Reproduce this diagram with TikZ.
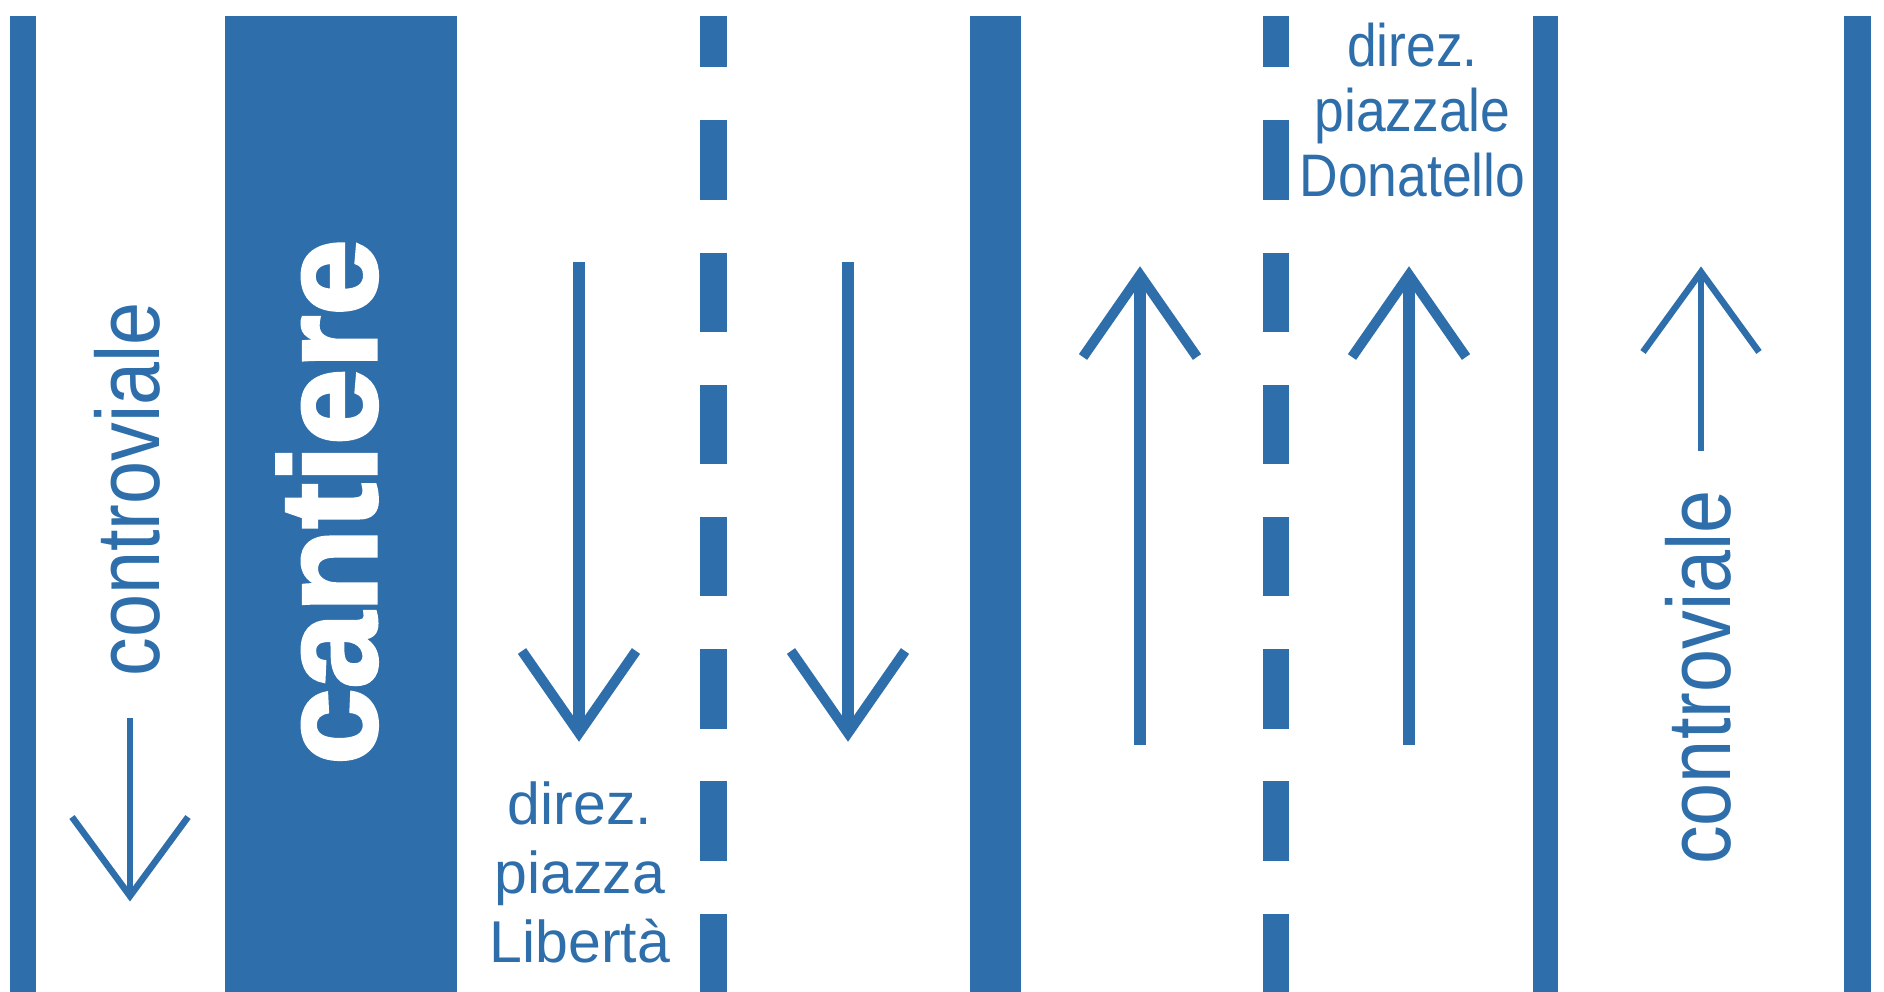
\documentclass[tikz,border=0pt]{standalone}
\usepackage{fontspec}
\setmainfont{Liberation Sans}
\newfontfamily\narrowfont{Liberation Sans}[FakeStretch=0.89]
\newfontfamily\sidefont{Liberation Sans}[FakeStretch=0.86]
\newfontfamily\heavyfont{Liberation Sans Bold}[FakeBold=2.5]
\definecolor{roadblue}{RGB}{46,110,171}

\begin{document}
\begin{tikzpicture}[x=1pt,y=-1pt,
  bar/.style={fill=roadblue,draw=none},
  lanemark/.style={draw=roadblue,line width=26.5pt,dash pattern=on 79.3pt off 52.9pt,dash phase=27.8pt},
  shaft/.style={draw=roadblue,line width=12pt},
  wing/.style={draw=roadblue,line width=10pt},
  thinshaft/.style={draw=roadblue,line width=6pt},
  thinwing/.style={draw=roadblue,line width=6.5pt},
  sidename/.style={text=roadblue,rotate=90,inner sep=0pt,anchor=base,font=\sidefont\fontsize{90}{90}\selectfont},
  direction/.style={text=roadblue,inner sep=0pt,anchor=north,align=center}
]
\useasboundingbox[fill=white] (0,0) rectangle (1884,992);

% Edge lines and median
\fill[bar] (10,16) rectangle (36,992);
\fill[bar] (970,16) rectangle (1021,992);
\fill[bar] (1533,16) rectangle (1558,992);
\fill[bar] (1844,16) rectangle (1871,992);

% Works area
\fill[bar] (225,16) rectangle (457,992);
\node[text=white,rotate=90,inner sep=0pt,anchor=base,font=\heavyfont\fontsize{137}{137}\selectfont] (cantiere) at (376,502) {cantiere};

% Lane markings
\draw[lanemark] (713.5,16) -- (713.5,992);
\draw[lanemark] (1276,16) -- (1276,992);

% Arrows
\draw[thinshaft] (130,718) -- (130,896);
\draw[thinwing] (72,817) -- (130,896) -- (188,817);
\draw[shaft] (579,262) -- (579,733);
\draw[wing] (522,651) -- (579,733) -- (636,651);
\draw[shaft] (848,262) -- (848,733);
\draw[wing] (791,651) -- (848,733) -- (905,651);
\draw[shaft] (1140,745) -- (1140,275);
\draw[wing] (1083,357) -- (1140,275) -- (1197,357);
\draw[shaft] (1409,745) -- (1409,275);
\draw[wing] (1352,357) -- (1409,275) -- (1466,357);
\draw[thinshaft] (1701,451) -- (1701,272);
\draw[thinwing] (1643,352) -- (1701,272) -- (1759,352);

% Labels
\node[sidename] (leftside) at (159,489.5) {controviale};
\node[sidename] (rightside) at (1730,677.6) {controviale};
\node[direction,font=\fontsize{59}{69}\selectfont] (towardsLiberta) at (580,782) {direz.\\piazza\\Libertà};
\node[direction,font=\narrowfont\fontsize{60}{65}\selectfont] (towardsDonatello) at (1412.5,23) {direz.\\piazzale\\Donatello};

\end{tikzpicture}
\end{document}
